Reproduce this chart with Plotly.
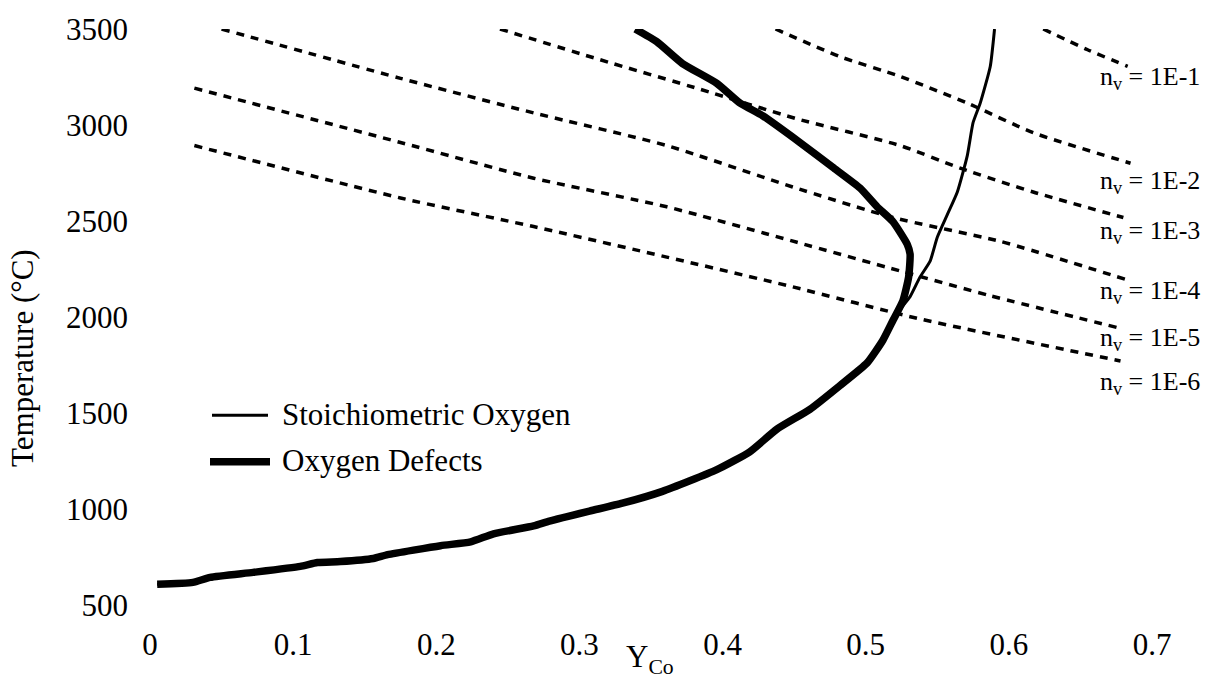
import plotly.graph_objects as go

# Cobalt mole fraction Y_Co vs temperature, stoichiometric oxygen (thin)
stoich_y = [0.005, 0.030, 0.042, 0.072, 0.105, 0.117, 0.133, 0.156, 0.166, 0.203,
            0.224, 0.240, 0.268, 0.279, 0.307, 0.330, 0.358, 0.396, 0.419, 0.438,
            0.461, 0.482, 0.501, 0.512, 0.519, 0.524, 0.531, 0.538, 0.545, 0.550,
            0.557, 0.564, 0.571, 0.575, 0.580, 0.587, 0.590]
stoich_t = [608, 618, 644, 670, 701, 721, 726, 742, 762, 809,
            829, 871, 912, 937, 989, 1030, 1092, 1205, 1298, 1416,
            1519, 1643, 1761, 1879, 1982, 2040, 2106, 2209, 2291, 2415,
            2533, 2651, 2842, 3012, 3114, 3305, 3500]

# Same system including oxygen defects (thick)
defect_y = [0.005, 0.030, 0.042, 0.072, 0.105, 0.117, 0.133, 0.156, 0.166, 0.203,
            0.224, 0.240, 0.268, 0.279, 0.307, 0.330, 0.358, 0.396, 0.419, 0.438,
            0.461, 0.482, 0.501, 0.512, 0.519, 0.526, 0.530, 0.531, 0.529, 0.519,
            0.508, 0.496, 0.477, 0.454, 0.428, 0.412, 0.396, 0.372, 0.354, 0.339]
defect_t = [608, 618, 644, 670, 701, 721, 726, 742, 762, 809,
            829, 871, 912, 937, 989, 1030, 1092, 1205, 1298, 1416,
            1519, 1643, 1761, 1879, 1982, 2085, 2209, 2327, 2379, 2497,
            2574, 2672, 2780, 2909, 3048, 3115, 3217, 3320, 3434, 3500]

# Iso-vacancy lines (n_v constant)
nv_labels = ["1E-1", "1E-2", "1E-3", "1E-4", "1E-5", "1E-6"]
nv_y = [
    [0.624, 0.655, 0.683],
    [0.437, 0.482, 0.524, 0.571, 0.617, 0.685],
    [0.2445, 0.314, 0.384, 0.452, 0.524, 0.566, 0.617, 0.680],
    [0.050, 0.175, 0.268, 0.361, 0.449, 0.519, 0.594, 0.685],
    [0.031, 0.175, 0.268, 0.361, 0.452, 0.524, 0.587, 0.678],
    [0.031, 0.175, 0.268, 0.361, 0.449, 0.536, 0.678],
]
nv_t = [
    [3500, 3392, 3305],
    [3500, 3356, 3253, 3114, 2960, 2801],
    [3500, 3341, 3187, 3032, 2893, 2775, 2651, 2518],
    [3500, 3243, 3063, 2893, 2677, 2518, 2394, 2188],
    [3192, 2909, 2723, 2574, 2389, 2240, 2111, 1941],
    [2893, 2620, 2471, 2312, 2157, 1993, 1771],
]
# label anchor temperatures for each iso-vacancy line
nv_label_t = [3243, 2703, 2445, 2131, 1884, 1658]

x_ticks = [0, 0.1, 0.2, 0.3, 0.4, 0.5, 0.6, 0.7]
x_ticktext = ["0", "0.1", "0.2", "0.3", "0.4", "0.5", "0.6", "0.7"]
t_ticks = [500, 1000, 1500, 2000, 2500, 3000, 3500]

FONT = "Liberation Serif, Times New Roman, serif"

fig = go.Figure()

for xs, ts in zip(nv_y, nv_t):
    fig.add_trace(go.Scatter(
        x=xs, y=ts, mode="lines", showlegend=False, hoverinfo="skip",
        line=dict(color="black", width=3.5, dash="8px,7px", shape="spline", smoothing=0.6),
    ))

fig.add_trace(go.Scatter(
    x=stoich_y, y=stoich_t, mode="lines", name="Stoichiometric Oxygen",
    showlegend=False, line=dict(color="black", width=3, shape="spline", smoothing=0.5),
))
fig.add_trace(go.Scatter(
    x=defect_y, y=defect_t, mode="lines", name="Oxygen Defects",
    showlegend=False, line=dict(color="black", width=7.5, shape="spline", smoothing=0.5),
))

annotations = []
for lab, t in zip(nv_labels, nv_label_t):
    annotations.append(dict(
        x=0.662, y=t, xref="x", yref="y", xanchor="left", yanchor="middle",
        text="n<sub>v</sub> = " + lab, showarrow=False,
        font=dict(family=FONT, size=26, color="black"),
    ))

# legend drawn as line samples with labels
L, R, B, H = 150, 63, 76, 583
W = 1215 - L - R


def px(xp):
    return (xp - L) / W


def py(yp):
    return (605 - yp) / H


shapes = [
    dict(type="line", xref="paper", yref="paper", x0=px(212), x1=px(268),
         y0=py(413), y1=py(413), line=dict(color="black", width=3)),
    dict(type="line", xref="paper", yref="paper", x0=px(210), x1=px(270),
         y0=py(460), y1=py(460), line=dict(color="black", width=7.5)),
]
annotations += [
    dict(x=px(280), y=py(412), xref="paper", yref="paper", xanchor="left",
         yanchor="middle", text="Stoichiometric Oxygen", showarrow=False,
         font=dict(family=FONT, size=31, color="black")),
    dict(x=px(280), y=py(459), xref="paper", yref="paper", xanchor="left",
         yanchor="middle", text="Oxygen Defects", showarrow=False,
         font=dict(family=FONT, size=31, color="black")),
    dict(x=px(22), y=py(355), xref="paper", yref="paper", xanchor="center",
         yanchor="middle", text="Temperature (°C)", textangle=-90, showarrow=False,
         font=dict(family=FONT, size=31, color="black")),
    dict(x=px(650), y=py(660), xref="paper", yref="paper", xanchor="center",
         yanchor="middle", text="Y<sub>Co</sub>", showarrow=False,
         font=dict(family=FONT, size=31, color="black")),
]

fig.update_layout(
    width=1215, height=681,
    margin=dict(l=L, r=R, t=22, b=B),
    paper_bgcolor="white", plot_bgcolor="white",
    font=dict(family=FONT, size=31, color="black"),
    shapes=shapes, annotations=annotations,
    xaxis=dict(range=[0, 0.7], tickvals=x_ticks, ticktext=x_ticktext,
               showgrid=False, zeroline=False, showline=False, ticks="",
               ticklabelstandoff=18, fixedrange=True),
    yaxis=dict(range=[500, 3500], tickvals=t_ticks, showgrid=False,
               zeroline=False, showline=False, ticks="", ticklabelstandoff=21,
               fixedrange=True),
)

fig.write_html("out.html")
